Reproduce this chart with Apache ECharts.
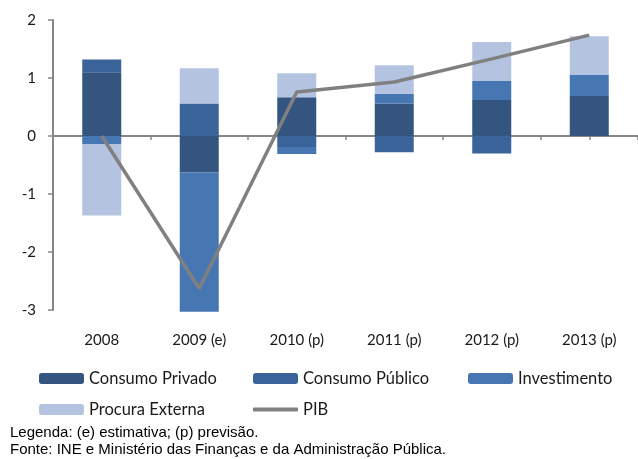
<!DOCTYPE html>
<html>
<head>
<meta charset="utf-8">
<script src="https://cdn.jsdelivr.net/npm/echarts@6/dist/echarts.min.js"></script>
<style>
  html, body { margin: 0; padding: 0; background: #fff; }
  #chart { width: 638px; height: 459px; }
</style>
</head>
<body>
<div id="chart"></div>
<script>
// valores (pontos percentuais)
const years = ['2008', '2009 (e)', '2010 (p)', '2011 (p)', '2012 (p)', '2013 (p)']
const consumoPrivado = [1.10, -0.63, 0.67, 0.56, 0.62, 0.69]
const consumoPublico = [0.22, 0.56, -0.19, -0.28, -0.30, 0]
const investimento = [-0.14, -2.40, -0.12, 0.17, 0.33, 0.36]
const procuraExterna = [-1.23, 0.61, 0.41, 0.49, 0.67, 0.67]
const pib = [0.0, -2.63, 0.76, 0.93, 1.33, 1.74]
const yTicks = [-3, -2, -1, 0, 1, 2]

const labelFont = 'Lato, "Open Sans", sans-serif'
const noteFont = '15px "Liberation Sans", Arial, sans-serif'
const axisGray = '#878787'

const chart = echarts.init(document.getElementById('chart'))

function barSeries(name, data, color) {
  return {
    name,
    type: 'bar',
    stack: 'total',
    data,
    barWidth: 39,
    clip: false,
    itemStyle: { color },
    emphasis: { disabled: true },
  }
}

function legendAt(name, left, top, extra) {
  return Object.assign({
    data: [name],
    left,
    top,
    padding: 0,
    itemWidth: 45,
    itemHeight: 11,
    selectedMode: false,
    textStyle: { fontFamily: labelFont, fontSize: 16.5, color: '#1a1a1a' },
  }, extra || {})
}

chart.setOption({
  animation: false,
  grid: { left: 53, top: 20, width: 590, height: 290 },
  legend: [
    legendAt('Consumo Privado', 39, 370),
    legendAt('Consumo Público', 253, 370),
    legendAt('Investimento', 468, 370),
    legendAt('Procura Externa', 39, 401),
    legendAt('PIB', 253, 401, {
      data: [{ name: 'PIB', icon: 'roundRect' }],
      itemHeight: 4,
    }),
  ],
  xAxis: [
    {
      type: 'category',
      data: years,
      position: 'bottom',
      axisLine: { show: false, onZero: false },
      axisTick: { show: false },
      axisLabel: { margin: 23, fontFamily: labelFont, fontSize: 15, color: '#1a1a1a' },
    },
    {
      // eixo auxiliar só para as marcas (a cada meia categoria) sobre o zero
      type: 'category',
      data: Array.from({ length: years.length * 2 + 1 }, () => ''),
      boundaryGap: false,
      position: 'bottom',
      axisLine: { onZero: true, lineStyle: { color: axisGray, width: 2 } },
      axisTick: { interval: 0, length: 4, lineStyle: { color: axisGray, width: 1.5 } },
      axisLabel: { show: false },
    },
  ],
  yAxis: {
    type: 'value',
    min: yTicks[0],
    max: yTicks[yTicks.length - 1],
    interval: 1,
    axisLine: { show: true, lineStyle: { color: axisGray, width: 2 } },
    axisTick: { show: true, length: 5, lineStyle: { color: axisGray, width: 1.5 } },
    splitLine: { show: false },
    axisLabel: { margin: 17, fontFamily: labelFont, fontSize: 15, color: '#1a1a1a' },
  },
  series: [
    barSeries('Consumo Privado', consumoPrivado, '#33557f'),
    barSeries('Consumo Público', consumoPublico, '#3a6399'),
    barSeries('Investimento', investimento, '#4777b3'),
    barSeries('Procura Externa', procuraExterna, '#b4c4e0'),
    {
      name: 'PIB',
      type: 'line',
      data: pib,
      symbol: 'none',
      z: 5,
      lineStyle: { color: '#808080', width: 3.5 },
      itemStyle: { color: '#808080' },
    },
  ],
  graphic: [
    {
      type: 'text',
      left: 10,
      top: 425,
      style: { text: 'Legenda: (e) estimativa; (p) previsão.', font: noteFont, fill: '#000' },
    },
    {
      type: 'text',
      left: 10,
      top: 442,
      style: { text: 'Fonte: INE e Ministério das Finanças e da Administração Pública.', font: noteFont, fill: '#000' },
    },
  ],
})
</script>
</body>
</html>
